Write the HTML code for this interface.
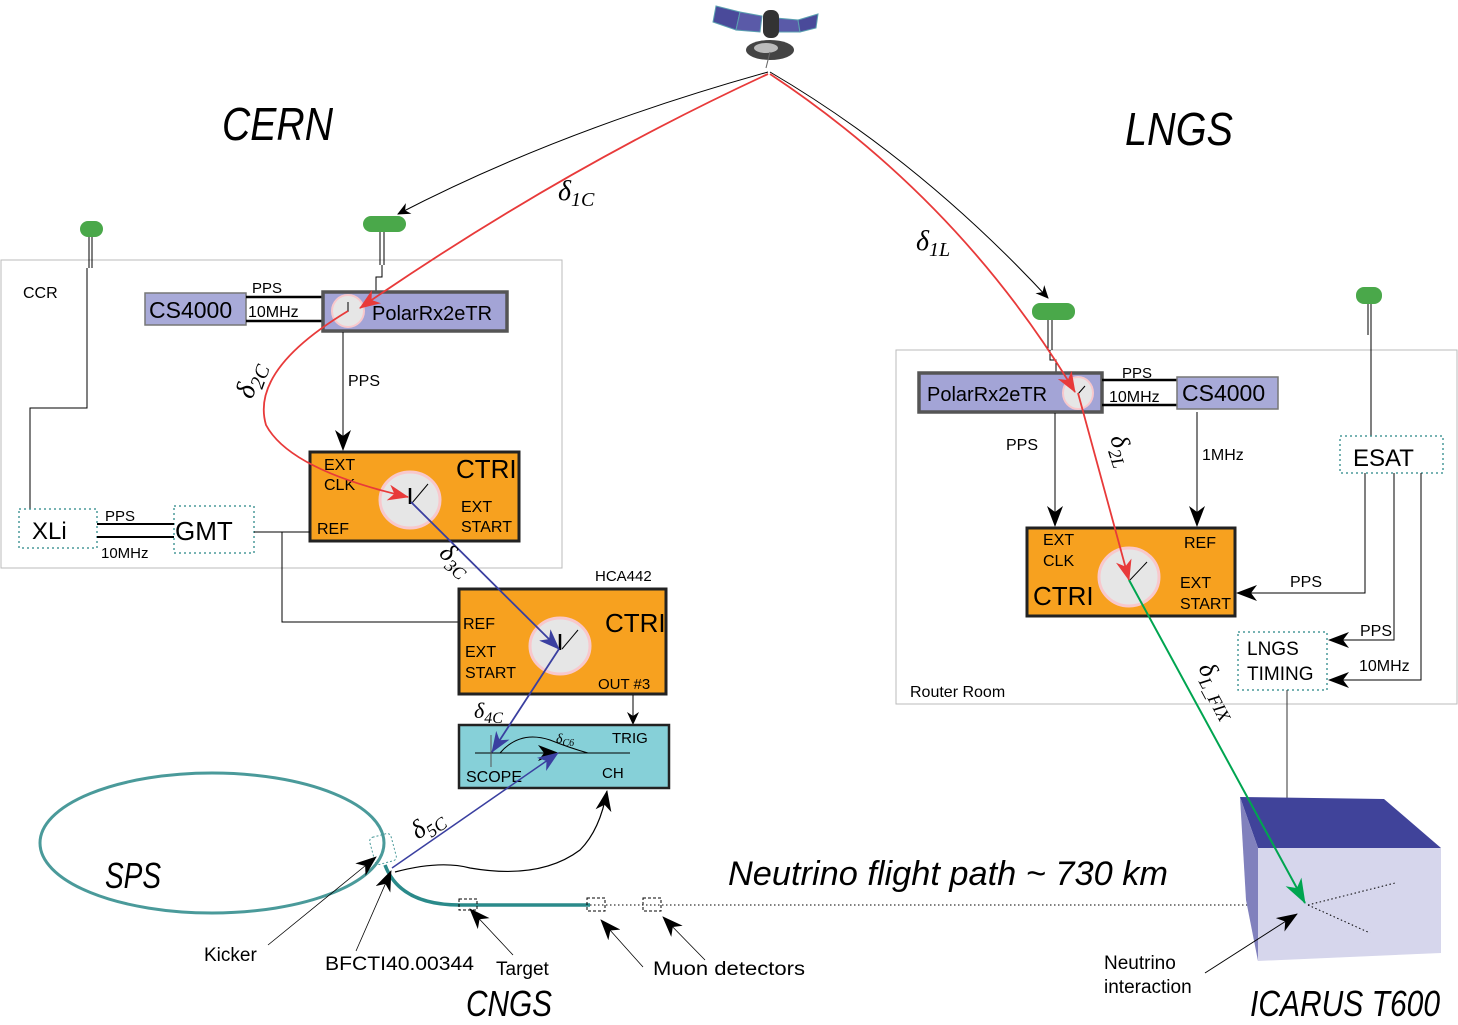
<!DOCTYPE html>
<html><head><meta charset="utf-8"><style>
html,body{margin:0;padding:0;background:#fff;}
svg{display:block;}
text{font-family:"Liberation Sans",sans-serif;}
.it{font-style:italic;}
.d{font-family:"Liberation Serif",serif;font-style:italic;}
</style></head><body>
<svg width="1458" height="1025" viewBox="0 0 1458 1025" xmlns="http://www.w3.org/2000/svg">
<defs>
<marker id="ak" markerWidth="14" markerHeight="12" refX="12" refY="6" orient="auto" markerUnits="userSpaceOnUse"><path d="M0,0 L13,6 L0,12 L4,6 z" fill="#000"/></marker>
<marker id="ar" markerWidth="22" markerHeight="16" refX="20" refY="8" orient="auto" markerUnits="userSpaceOnUse"><path d="M0,0 L21,8 L0,16 L6,8 z" fill="#e83a3a"/></marker>
<marker id="ab" markerWidth="22" markerHeight="16" refX="20" refY="8" orient="auto" markerUnits="userSpaceOnUse"><path d="M0,0 L21,8 L0,16 L6,8 z" fill="#3a3fa0"/></marker>
<marker id="ag" markerWidth="26" markerHeight="18" refX="24" refY="9" orient="auto" markerUnits="userSpaceOnUse"><path d="M0,0 L25,9 L0,18 L7,9 z" fill="#00a550"/></marker>
<marker id="akb" markerWidth="22" markerHeight="16" refX="20" refY="8" orient="auto" markerUnits="userSpaceOnUse"><path d="M0,0 L21,8 L0,16 L6,8 z" fill="#000"/></marker>
</defs>

<!-- satellite -->
<polygon points="716,6 740,12 736,30 713,22" fill="#4a4a9a" stroke="#5aa0b0"/>
<polygon points="740,12 762,16 760,32 736,30" fill="#5a5aa8" stroke="#5aa0b0"/>
<polygon points="776,18 798,20 800,32 778,32" fill="#5a5aa8" stroke="#5aa0b0"/>
<polygon points="798,20 818,14 816,28 800,32" fill="#4a4a9a" stroke="#5aa0b0"/>
<rect x="763" y="10" width="16" height="28" rx="7" fill="#333"/>
<ellipse cx="770" cy="50" rx="24" ry="10" fill="#444"/>
<ellipse cx="766" cy="48" rx="12" ry="5" fill="#bbb"/>
<line x1="770" y1="52" x2="766" y2="68" stroke="#666"/>

<path d="M768,72 Q560,130 398,214" fill="none" stroke="#000" marker-end="url(#ak)"/>
<path d="M770,72 Q920,160 1048,298" fill="none" stroke="#000" marker-end="url(#ak)"/>

<text x="222" y="140" font-size="46" class="it" textLength="111" lengthAdjust="spacingAndGlyphs">CERN</text>
<text x="1125" y="145" font-size="46" class="it" textLength="108" lengthAdjust="spacingAndGlyphs">LNGS</text>

<rect x="1" y="260" width="561" height="308" fill="none" stroke="#bbb"/>
<text x="23" y="298" font-size="16">CCR</text>

<rect x="80" y="221" width="23" height="16" rx="8" fill="#4aa84a"/>
<line x1="89" y1="237" x2="89" y2="268" stroke="#000"/><line x1="92" y1="237" x2="92" y2="268" stroke="#000"/>
<polyline points="87,268 87,408 30,408 30,509" fill="none" stroke="#000"/>
<rect x="363" y="216" width="43" height="16" rx="8" fill="#4aa84a"/>
<line x1="380" y1="232" x2="380" y2="265" stroke="#000"/><line x1="384" y1="232" x2="384" y2="265" stroke="#000"/>
<polyline points="382,265 382,277 376,277 376,292" fill="none" stroke="#000"/>

<rect x="145" y="293" width="101" height="32" fill="#a8aad8" stroke="#777" stroke-width="1.5"/>
<text x="149" y="318" font-size="23">CS4000</text>
<line x1="246" y1="297" x2="323" y2="297" stroke="#000" stroke-width="2.5"/>
<line x1="246" y1="321" x2="323" y2="321" stroke="#000" stroke-width="2.5"/>
<text x="252" y="293" font-size="15">PPS</text>
<text x="248" y="317" font-size="16">10MHz</text>
<rect x="323" y="292" width="184" height="39" fill="#a3a4d6" stroke="#555" stroke-width="3.5"/>
<ellipse cx="348" cy="311" rx="16" ry="16" fill="#e6e6e6" stroke="#f8c8cc" stroke-width="2"/>
<line x1="348" y1="302" x2="348" y2="312" stroke="#000"/>
<text x="372" y="320" font-size="20">PolarRx2eTR</text>

<line x1="343" y1="332" x2="343" y2="450" stroke="#000" marker-end="url(#akb)"/>
<text x="348" y="386" font-size="16">PPS</text>

<rect x="310" y="452" width="209" height="89" fill="#f7a11f" stroke="#222" stroke-width="3"/>
<ellipse cx="410" cy="500" rx="30" ry="28" fill="#e6e6e6" stroke="#f8c8cc" stroke-width="3"/>
<line x1="410" y1="488" x2="410" y2="504" stroke="#000" stroke-width="2.5"/>
<line x1="412" y1="503" x2="428" y2="484" stroke="#000"/>
<text x="324" y="470" font-size="16">EXT</text>
<text x="324" y="490" font-size="16">CLK</text>
<text x="456" y="478" font-size="26">CTRI</text>
<text x="461" y="512" font-size="16">EXT</text>
<text x="461" y="532" font-size="16">START</text>
<text x="317" y="534" font-size="16">REF</text>

<rect x="19" y="509" width="78" height="39" fill="#fff" stroke="#4a9a9a" stroke-dasharray="2,3" stroke-width="1.5"/>
<text x="32" y="539" font-size="24">XLi</text>
<rect x="174" y="506" width="80" height="47" fill="#fff" stroke="#4a9a9a" stroke-dasharray="2,3" stroke-width="1.5"/>
<text x="175" y="540" font-size="26">GMT</text>
<line x1="97" y1="524" x2="174" y2="524" stroke="#000" stroke-width="2"/>
<line x1="97" y1="537" x2="174" y2="537" stroke="#000" stroke-width="2"/>
<text x="105" y="521" font-size="15">PPS</text>
<text x="101" y="558" font-size="15">10MHz</text>
<polyline points="254,532 310,532" fill="none" stroke="#000"/>
<polyline points="282,532 282,622 459,622" fill="none" stroke="#000"/>

<text x="595" y="581" font-size="15">HCA442</text>
<rect x="459" y="589" width="207" height="105" fill="#f7a11f" stroke="#222" stroke-width="3"/>
<ellipse cx="560" cy="646" rx="30" ry="28" fill="#e6e6e6" stroke="#f8c8cc" stroke-width="3"/>
<line x1="560" y1="634" x2="560" y2="650" stroke="#000" stroke-width="2.5"/>
<line x1="562" y1="649" x2="578" y2="630" stroke="#000"/>
<text x="463" y="629" font-size="16">REF</text>
<text x="465" y="657" font-size="16">EXT</text>
<text x="465" y="678" font-size="16">START</text>
<text x="605" y="632" font-size="26">CTRI</text>
<text x="598" y="689" font-size="15">OUT #3</text>
<line x1="633" y1="695" x2="633" y2="724" stroke="#000" marker-end="url(#ak)"/>

<rect x="459" y="725" width="210" height="63" fill="#86d0d8" stroke="#222" stroke-width="2.5"/>
<line x1="475" y1="753" x2="630" y2="753" stroke="#000"/>
<line x1="491" y1="735" x2="491" y2="767" stroke="#555"/>
<path d="M500,753 Q520,730 550,740 Q570,748 588,753" fill="none" stroke="#000"/>
<line x1="535" y1="753" x2="558" y2="753" stroke="#000" marker-end="url(#akb)"/>
<text x="556" y="743" font-size="14" class="d">δ<tspan font-size="10" dy="3">C6</tspan></text>
<text x="612" y="743" font-size="15">TRIG</text>
<text x="466" y="782" font-size="16">SCOPE</text>
<text x="602" y="778" font-size="15">CH</text>

<ellipse cx="212" cy="843" rx="172" ry="70" fill="none" stroke="#4a9a9a" stroke-width="3"/>
<text x="105" y="888" font-size="36" class="it" textLength="56" lengthAdjust="spacingAndGlyphs">SPS</text>
<rect x="372" y="835" width="22" height="28" rx="4" fill="none" stroke="#4a9a9a" stroke-dasharray="2,2" transform="rotate(-15 383 849)"/>
<path d="M385,865 Q400,905 460,905 L590,905" fill="none" stroke="#2a8a8a" stroke-width="3.5"/>
<line x1="590" y1="905" x2="1310" y2="905" stroke="#000" stroke-dasharray="1.5,2.5"/>
<rect x="459" y="899" width="18" height="11" fill="none" stroke="#000" stroke-dasharray="3,2"/>
<rect x="587" y="898" width="18" height="13" fill="none" stroke="#000" stroke-dasharray="3,2"/>
<rect x="643" y="898" width="18" height="13" fill="none" stroke="#000" stroke-dasharray="3,2"/>
<path d="M395,872 Q440,860 470,868 Q540,880 580,850 Q600,830 607,791" fill="none" stroke="#000" stroke-width="1.2" marker-end="url(#akb)"/>
<line x1="268" y1="945" x2="376" y2="857" stroke="#000" stroke-width="0.8" marker-end="url(#akb)"/>
<line x1="356" y1="951" x2="391" y2="871" stroke="#000" stroke-width="0.8" marker-end="url(#akb)"/>
<line x1="513" y1="955" x2="470" y2="909" stroke="#000" stroke-width="0.8" marker-end="url(#akb)"/>
<line x1="643" y1="967" x2="601" y2="920" stroke="#000" stroke-width="0.8" marker-end="url(#akb)"/>
<line x1="705" y1="960" x2="663" y2="917" stroke="#000" stroke-width="0.8" marker-end="url(#akb)"/>
<text x="204" y="961" font-size="19">Kicker</text>
<text x="325" y="970" font-size="19" textLength="149" lengthAdjust="spacingAndGlyphs">BFCTI40.00344</text>
<text x="496" y="975" font-size="19">Target</text>
<text x="653" y="975" font-size="19" textLength="152" lengthAdjust="spacingAndGlyphs">Muon detectors</text>
<text x="466" y="1016" font-size="36" class="it" textLength="86" lengthAdjust="spacingAndGlyphs">CNGS</text>
<text x="728" y="885" font-size="34" class="it" textLength="440" lengthAdjust="spacingAndGlyphs">Neutrino flight path ~ 730 km</text>

<rect x="896" y="350" width="561" height="354" fill="none" stroke="#bbb"/>
<text x="910" y="697" font-size="16">Router Room</text>
<rect x="1032" y="303" width="43" height="17" rx="8" fill="#4aa84a"/>
<line x1="1048" y1="320" x2="1048" y2="350" stroke="#000"/><line x1="1052" y1="320" x2="1052" y2="350" stroke="#000"/>
<polyline points="1050,350 1050,360 1056,360 1056,373" fill="none" stroke="#000"/>
<rect x="1356" y="287" width="26" height="17" rx="8" fill="#4aa84a"/>
<line x1="1368" y1="304" x2="1368" y2="335" stroke="#000"/><line x1="1371" y1="304" x2="1371" y2="436" stroke="#000"/>

<rect x="919" y="373" width="183" height="39" fill="#a3a4d6" stroke="#555" stroke-width="3.5"/>
<text x="927" y="401" font-size="20">PolarRx2eTR</text>
<ellipse cx="1078" cy="393" rx="15" ry="16" fill="#e6e6e6" stroke="#f8c8cc" stroke-width="2"/>
<line x1="1078" y1="394" x2="1085" y2="386" stroke="#000"/>
<line x1="1102" y1="380" x2="1177" y2="380" stroke="#000" stroke-width="2.5"/>
<line x1="1102" y1="405" x2="1177" y2="405" stroke="#000" stroke-width="2.5"/>
<text x="1122" y="378" font-size="15">PPS</text>
<text x="1109" y="402" font-size="16">10MHz</text>
<rect x="1177" y="377" width="101" height="32" fill="#a8aad8" stroke="#777" stroke-width="1.5"/>
<text x="1182" y="401" font-size="23">CS4000</text>

<line x1="1055" y1="413" x2="1055" y2="526" stroke="#000" marker-end="url(#akb)"/>
<text x="1006" y="450" font-size="16">PPS</text>
<line x1="1197" y1="412" x2="1197" y2="526" stroke="#000" marker-end="url(#akb)"/>
<text x="1202" y="460" font-size="16">1MHz</text>

<rect x="1027" y="528" width="208" height="88" fill="#f7a11f" stroke="#222" stroke-width="3"/>
<ellipse cx="1129" cy="577" rx="30" ry="29" fill="#e6e6e6" stroke="#f8c8cc" stroke-width="3"/>
<line x1="1130" y1="580" x2="1147" y2="562" stroke="#000"/>
<text x="1043" y="545" font-size="16">EXT</text>
<text x="1043" y="566" font-size="16">CLK</text>
<text x="1033" y="605" font-size="26">CTRI</text>
<text x="1184" y="548" font-size="16">REF</text>
<text x="1180" y="588" font-size="16">EXT</text>
<text x="1180" y="609" font-size="16">START</text>

<rect x="1340" y="436" width="103" height="37" fill="#fff" stroke="#4a9a9a" stroke-dasharray="2,3" stroke-width="1.5"/>
<text x="1353" y="466" font-size="24">ESAT</text>
<polyline points="1365,473 1365,593 1237,593" fill="none" stroke="#000" marker-end="url(#akb)"/>
<text x="1290" y="587" font-size="16">PPS</text>
<polyline points="1394,473 1394,640 1329,640" fill="none" stroke="#000" marker-end="url(#akb)"/>
<text x="1360" y="636" font-size="16">PPS</text>
<polyline points="1421,473 1421,680 1329,680" fill="none" stroke="#000" marker-end="url(#akb)"/>
<text x="1359" y="671" font-size="16">10MHz</text>
<rect x="1238" y="632" width="89" height="58" fill="#fff" stroke="#4a9a9a" stroke-dasharray="2,3" stroke-width="1.5"/>
<text x="1247" y="655" font-size="19">LNGS</text>
<text x="1247" y="680" font-size="19">TIMING</text>
<line x1="1287" y1="690" x2="1287" y2="798" stroke="#333"/>

<polygon points="1240,797 1384,799 1441,848 1258,848" fill="#40439a"/>
<polygon points="1240,797 1258,848 1258,961 1246,900" fill="#8181bd"/>
<polygon points="1258,848 1441,848 1441,953 1258,961" fill="#d6d6ec"/>
<line x1="1308" y1="905" x2="1395" y2="883" stroke="#000" stroke-dasharray="1.5,2.5"/>
<line x1="1308" y1="905" x2="1370" y2="933" stroke="#000" stroke-dasharray="1.5,2.5"/>
<line x1="1205" y1="973" x2="1297" y2="914" stroke="#000" marker-end="url(#akb)"/>
<text x="1104" y="969" font-size="19">Neutrino</text>
<text x="1104" y="993" font-size="19">interaction</text>
<text x="1250" y="1016" font-size="36" class="it" textLength="190" lengthAdjust="spacingAndGlyphs">ICARUS T600</text>

<path d="M768,74 Q560,170 360,308" fill="none" stroke="#e83a3a" stroke-width="1.8" marker-end="url(#ar)"/>
<path d="M348,311 Q250,370 266,425 Q290,470 408,497" fill="none" stroke="#e83a3a" stroke-width="1.8" marker-end="url(#ar)"/>
<path d="M770,74 Q960,200 1075,392" fill="none" stroke="#e83a3a" stroke-width="1.8" marker-end="url(#ar)"/>
<line x1="1078" y1="393" x2="1129" y2="580" stroke="#e83a3a" stroke-width="1.8" marker-end="url(#ar)"/>
<line x1="1129" y1="580" x2="1305" y2="903" stroke="#00a550" stroke-width="2" marker-end="url(#ag)"/>
<line x1="411" y1="502" x2="559" y2="649" stroke="#3a3fa0" stroke-width="1.8" marker-end="url(#ab)"/>
<line x1="559" y1="649" x2="492" y2="752" stroke="#3a3fa0" stroke-width="1.8" marker-end="url(#ab)"/>
<line x1="392" y1="868" x2="558" y2="753" stroke="#3a3fa0" stroke-width="1.5" marker-end="url(#ab)"/>

<text x="558" y="200" font-size="28" class="d">δ<tspan font-size="20" dy="6">1C</tspan></text>
<text x="916" y="250" font-size="28" class="d">δ<tspan font-size="20" dy="6">1L</tspan></text>
<text transform="translate(252,400) rotate(-70)" font-size="28" class="d">δ<tspan font-size="20" dy="6">2C</tspan></text>
<text transform="translate(1110,438) rotate(72)" font-size="26" class="d">δ<tspan font-size="18" dy="6">2L</tspan></text>
<text transform="translate(438,555) rotate(40)" font-size="26" class="d">δ<tspan font-size="18" dy="6">3C</tspan></text>
<text x="474" y="718" font-size="22" class="d">δ<tspan font-size="16" dy="5">4C</tspan></text>
<text transform="translate(418,840) rotate(-35)" font-size="26" class="d">δ<tspan font-size="18" dy="6">5C</tspan></text>
<text transform="translate(1198,668) rotate(62)" font-size="26" class="d">δ<tspan font-size="18" dy="6">L_FIX</tspan></text>
</svg>
</body></html>
